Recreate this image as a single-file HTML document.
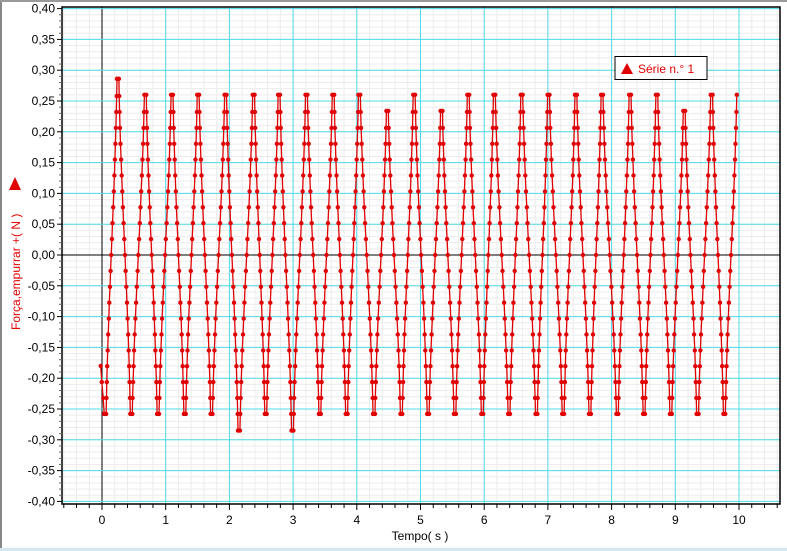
<!DOCTYPE html>
<html><head><meta charset="utf-8"><style>
html,body{margin:0;padding:0;background:#fff;width:787px;height:551px;overflow:hidden}
svg{display:block;font-family:"Liberation Sans",sans-serif}
</style></head><body>
<svg id="chart" width="787" height="551">
<rect x="0" y="0" width="787" height="551" fill="#fff"/>
<line x1="1" y1="0" x2="1" y2="551" stroke="#888" stroke-width="2"/>
<line x1="0" y1="1" x2="787" y2="1" stroke="#999" stroke-width="2"/>
<line x1="0" y1="549.5" x2="787" y2="549.5" stroke="#d6e8ef" stroke-width="3"/>
<g id="grid"></g>
<g id="series"></g>
<rect x="62" y="7" width="718" height="497" fill="none" stroke="#000" stroke-width="1.5"/>
<g id="axes"></g>
<text x="420" y="540" font-size="12" text-anchor="middle">Tempo( s )</text>
<polygon points="9,190 21,190 15,177" fill="#e00000"/>
<text transform="translate(20,330) rotate(-90)" font-size="12" fill="#e00000">Força,empurrar +( N )</text>
<g>
<rect x="615" y="56.5" width="92" height="23" fill="#fff" stroke="#000" stroke-width="1"/>
<polygon points="621,74 633,74 627,63" fill="#e00000"/>
<text x="638" y="73" font-size="12" fill="#e00000">Série n.° 1</text>
</g>
</svg>
<script>
// chart data: extrema of each oscillation (time in s, force in N)
const startTime = [-0.02];
const startValue = [-0.18];
const extremaTimes = [0.05,0.25,0.46,0.68,0.88,1.10,1.30,1.51,1.72,1.94,2.15,2.38,2.57,2.78,2.99,3.21,3.42,3.63,3.84,4.04,4.27,4.48,4.70,4.90,5.12,5.33,5.54,5.75,5.97,6.16,6.39,6.59,6.82,7.01,7.24,7.44,7.66,7.85,8.09,8.29,8.51,8.71,8.93,9.14,9.35,9.57,9.77,9.98];
const extremaValues = [-0.258,0.286,-0.258,0.26,-0.258,0.26,-0.258,0.26,-0.258,0.26,-0.285,0.26,-0.258,0.26,-0.285,0.26,-0.258,0.26,-0.258,0.26,-0.258,0.234,-0.258,0.26,-0.258,0.234,-0.258,0.26,-0.258,0.26,-0.258,0.26,-0.258,0.26,-0.258,0.26,-0.258,0.26,-0.258,0.26,-0.258,0.26,-0.258,0.234,-0.258,0.26,-0.258,0.26];
const xTicks = [0,1,2,3,4,5,6,7,8,9,10];
const yTicks = [0.40,0.35,0.30,0.25,0.20,0.15,0.10,0.05,0,-0.05,-0.10,-0.15,-0.20,-0.25,-0.30,-0.35,-0.40];

const NS = "http://www.w3.org/2000/svg";
const X0 = 102, XS = 63.7, Y0 = 255, YS = 616;
function sx(t){return X0 + t*XS;}
function sy(v){return Y0 - v*YS;}
function mk(tag, attrs, parent){const e=document.createElementNS(NS,tag);for(const k in attrs)e.setAttribute(k,attrs[k]);parent.appendChild(e);return e;}
const grid=document.getElementById('grid'), axes=document.getElementById('axes'), series=document.getElementById('series');

for(let i=-60;i<=66;i++){const t=i*0.2;const x=sx(t);if(x<=62||x>=780)continue;
  const l=mk('line',{x1:x,y1:7,x2:x,y2:504,stroke:'#ececec','stroke-width':1},grid);
  
  }
for(let i=-41;i<=41;i++){const y=sy(i*0.01);if(y<=7||y>=504)continue;
  const l=mk('line',{x1:62,y1:y,x2:780,y2:y,stroke:'#ececec','stroke-width':1},grid);
  
  }
xTicks.forEach(t=>{const x=sx(t);
  const l=mk('line',{x1:x,y1:7,x2:x,y2:504,stroke:t===0?'#000':'#4fdbe8','stroke-width':1},grid);
  
  });
yTicks.forEach(v=>{const y=sy(v);
  const l=mk('line',{x1:62,y1:y,x2:780,y2:y,stroke:v===0?'#000':'#4fdbe8','stroke-width':1},grid);
  
  });
yTicks.forEach(v=>{const y=sy(v);
  const tk=mk('line',{x1:57,y1:y,x2:62,y2:y,stroke:'#000'},axes);
  
  
  const tx=mk('text',{x:55,y:y+4,'font-size':12,'text-anchor':'end'},axes);
  tx.textContent=v.toFixed(2).replace('.',',').replace('-0,00','0,00');
  
  });
for(let i=-41;i<=41;i++){if(i%5===0)continue;const y=sy(i*0.01);if(y<7||y>504)continue;
  const tk=mk('line',{x1:59,y1:y,x2:62,y2:y,stroke:'#666'},axes);
  
  }
for(let i=-3;i<=53;i++){const x=sx(i*0.2);if(x<62||x>780)continue;const major=i%5===0;
  const tk=mk('line',{x1:x,y1:504,x2:x,y2:major?510:508,stroke:'#000'},axes);
  
  }
xTicks.forEach(t=>{const tx=mk('text',{x:sx(t),y:524,'font-size':12,'text-anchor':'middle'},axes);
  tx.textContent=String(t);
  
  });

// series: edges between extrema, one dot per sensor level, short dwell at each extremum
const STEP=0.0258, DWELL=0.03;
const ts=[startTime[0]].concat(extremaTimes), vs=[startValue[0]].concat(extremaValues);
const pts=[];
for(let k=0;k<ts.length-1;k++){
  const a=ts[k]+(k===0?0:DWELL/2), b=ts[k+1]-DWELL/2, va=vs[k], vb=vs[k+1];
  const la=Math.round(va/STEP), lb=Math.round(vb/STEP);
  const n=Math.max(1,Math.abs(lb-la));
  const dir=lb>la?1:-1;
  for(let j=(k===0?0:1);j<=n;j++){const f=j/n;
    const s=0.55*f+0.45*(1-Math.cos(Math.PI*f))/2;
    let v=(la+dir*j)*STEP; if(j===n) v=vb; if(j===0) v=va;
    pts.push([a+(b-a)*s,v]);}
  if(k<ts.length-2) pts.push([ts[k+1]+DWELL/2,vb]);
}
const line=mk('polyline',{points:pts.map(p=>sx(p[0]).toFixed(1)+','+sy(p[1]).toFixed(1)).join(' '),fill:'none',stroke:'#e00000','stroke-width':1.3},series);


pts.forEach(p=>{const c=mk('circle',{cx:sx(p[0]).toFixed(1),cy:sy(p[1]).toFixed(1),r:2.2,fill:'#e00000'},series);
  
  });
</script>
</body></html>
